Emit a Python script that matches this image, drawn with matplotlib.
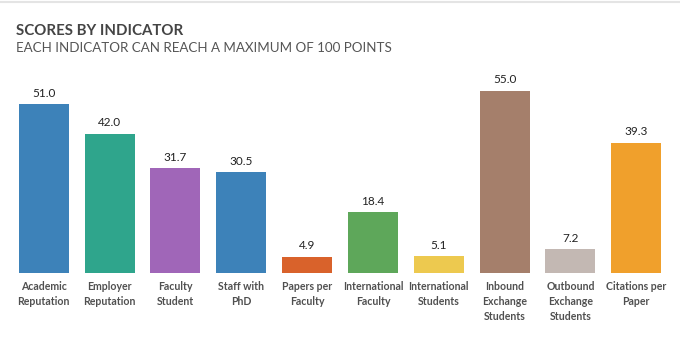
import matplotlib
matplotlib.use("Agg")
from matplotlib import pyplot as plt

categories = ["Academic\nReputation", "Employer\nReputation", "Faculty\nStudent",
              "Staff with\nPhD", "Papers per\nFaculty", "International\nFaculty",
              "International\nStudents", "Inbound\nExchange\nStudents",
              "Outbound\nExchange\nStudents", "Citations per\nPaper"]
scores = [51.0, 42.0, 31.7, 30.5, 4.9, 18.4, 5.1, 55.0, 7.2, 39.3]
colors = ["#3d82b9", "#2fa58c", "#a066b8", "#3d82b9", "#d9622b",
          "#5ea75a", "#edc94f", "#a57f6b", "#c3b8b3", "#f0a02c"]

plt.rcParams['font.family'] = ['Lato', 'DejaVu Sans']

fig = plt.figure(figsize=(6.8, 3.56), dpi=100)
ax = fig.add_axes([0.016, 0.233, 0.968, 0.558])

x = range(len(scores))
bars = ax.bar(x, scores, width=0.76, color=colors)

# value labels above each bar
for b, v in zip(bars, scores):
    ax.annotate(f"{v:.1f}", (b.get_x() + b.get_width() / 2, v),
                textcoords="offset points", xytext=(0, 4), ha='center',
                va='bottom', fontsize=8.5, color="#222222")

ax.set_xlim(-0.5, len(scores) - 0.5)
ax.set_ylim(0, 60)
ax.set_xticks(list(x))
ax.set_xticklabels(categories, fontsize=7.6, color="#505050", fontweight='bold',
                   linespacing=1.45)
ax.tick_params(axis='x', length=0, pad=6)
ax.set_yticks([])
for s in ax.spines.values():
    s.set_visible(False)

fig.text(0.024, 0.902, "SCORES BY INDICATOR", fontsize=10.8, fontweight='bold',
         color="#444444", va='baseline')
fig.text(0.024, 0.854, "EACH INDICATOR CAN REACH A MAXIMUM OF 100 POINTS",
         fontsize=9.6, color="#555555", va='baseline')

# faint border line at the top of the panel
fig.add_artist(plt.Line2D([0, 1], [0.994, 0.994], transform=fig.transFigure,
                          color="#e4e4e4", lw=1.5))

fig.savefig("out.png", dpi=100)
